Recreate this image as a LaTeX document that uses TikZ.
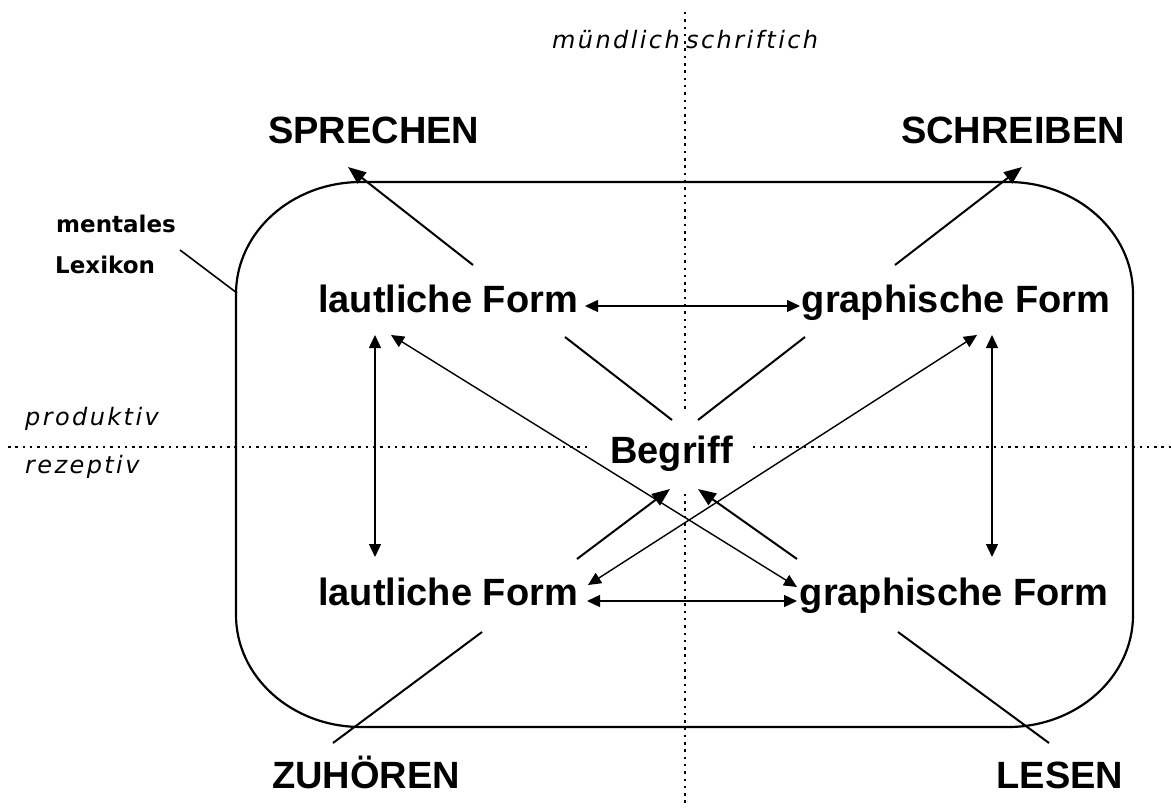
\documentclass[tikz,border=0pt]{standalone}
\usepackage{fontspec}
\setmainfont{Liberation Sans}
\newfontfamily\smallbold{DejaVu Sans}
\newfontfamily\oblf[LetterSpace=10]{DejaVu Sans}
\usetikzlibrary{arrows.meta}
\begin{document}
\begin{tikzpicture}[x=1pt,y=-1pt,
  big/.style={font=\fontsize{38}{40}\selectfont\bfseries, inner sep=0pt},
  lab/.style={font=\smallbold\fontsize{23}{25}\selectfont\bfseries, inner sep=0pt, anchor=base west},
  side/.style={font=\oblf\fontsize{24}{26}\selectfont\itshape, inner sep=0pt, anchor=base west},
  dotline/.style={line width=2pt, dash pattern=on 2.5pt off 4.8pt},
  boxline/.style={line width=2.2pt},
  plain/.style={line width=2pt},
  thin/.style={line width=1.4pt},
  arr/.style={line width=2pt, -{Triangle[length=18pt,width=14pt]}},
  dbl/.style={line width=1.4pt, {Triangle[length=13pt,width=12pt]}-{Triangle[length=13pt,width=12pt]}}
]
\useasboundingbox (0,0) rectangle (1171,808);
\fill[white] (0,0) rectangle (1171,808);

% dotted axes
\coordinate (vtop) at (685,12);
\coordinate (vbot) at (685,808);
\coordinate (hleft) at (8,447);
\coordinate (hright) at (1171,447);
\draw[dotline] (vtop) -- (vbot);
\draw[dotline] (hleft) -- (hright);

% mental lexicon box
\draw[boxline] (236,294) .. controls (236,232) and (292,182) .. (361,182)
  -- (1008,182) .. controls (1077,182) and (1133,232) .. (1133,294)
  -- (1133,615) .. controls (1133,677) and (1077,727) .. (1008,727)
  -- (361,727) .. controls (292,727) and (236,677) .. (236,615) -- cycle;

% Begriff (white patch over the axes)
\fill[white] (587,413) rectangle (753,490);
\node[big, anchor=base] (beg) at (671.5,463) {Begriff};

% axis labels
\node[side] (muend) at (552,49) {mündlich};
\node[side] (schr) at (686,49) {schriftich};
\node[side] (prod) at (25,425) {produktiv};
\node[side] (rez) at (25,473) {rezeptiv};

% skills
\node[big, anchor=base west] (sp) at (268,143) {SPRECHEN};
\node[big, anchor=base] (sc) at (1013,143) {SCHREIBEN};
\node[big, anchor=base] (zu) at (366,788) {ZUHÖREN};
\node[big, anchor=base] (le) at (1060,788) {LESEN};

% forms
\node[big, anchor=base] (lt) at (448,312) {lautliche Form};
\node[big, anchor=base] (gt) at (956,312) {graphische Form};
\node[big, anchor=base] (lb) at (448,605) {lautliche Form};
\node[big, anchor=base] (gb) at (954,605) {graphische Form};

% mentales Lexikon
\node[lab] (ml1) at (56,232) {mentales};
\node[lab] (ml2) at (55,273) {Lexikon};
\coordinate (mlA) at (180,250);
\coordinate (mlB) at (237,293);
\draw[line width=1.6pt] (mlA) -- (mlB);

% connector coordinates
\coordinate (lt-up) at (473,265);  \coordinate (sp-tip) at (348,167);
\coordinate (gt-up) at (895,265);  \coordinate (sc-tip) at (1022,167);
\coordinate (lt-r) at (585,306);   \coordinate (gt-l) at (800,306);
\coordinate (lb-r) at (587,601);   \coordinate (gb-l) at (797,601);
\coordinate (lt-dn) at (375,335);  \coordinate (lb-up) at (375,557);
\coordinate (gt-dn) at (992,335);  \coordinate (gb-up) at (992,557);
\coordinate (lt-se) at (565,337);  \coordinate (beg-nw) at (672,420);
\coordinate (gt-sw) at (805,337);  \coordinate (beg-ne) at (698,420);
\coordinate (lb-ne) at (577,559);  \coordinate (beg-sw) at (670,489);
\coordinate (gb-nw) at (797,559);  \coordinate (beg-se) at (698,489);
\coordinate (lt-x) at (391,335);   \coordinate (gb-x) at (797,587);
\coordinate (lb-x) at (588,585);   \coordinate (gt-x) at (977,335);
\coordinate (lb-dn) at (482,632);  \coordinate (zu-tip) at (333,743);
\coordinate (gb-dn) at (898,632);  \coordinate (le-tip) at (1049,743);

% connectors
\draw[arr] (lt-up) -- (sp-tip);
\draw[arr] (gt-up) -- (sc-tip);
\draw[dbl] (lt-r) -- (gt-l);
\draw[dbl] (lb-r) -- (gb-l);
\draw[dbl] (lt-dn) -- (lb-up);
\draw[dbl] (gt-dn) -- (gb-up);
\draw[plain] (lt-se) -- (beg-nw);
\draw[plain] (gt-sw) -- (beg-ne);
\draw[arr] (lb-ne) -- (beg-sw);
\draw[arr] (gb-nw) -- (beg-se);
\draw[dbl] (lt-x) -- (gb-x);
\draw[dbl] (lb-x) -- (gt-x);
\draw[plain] (lb-dn) -- (zu-tip);
\draw[plain] (gb-dn) -- (le-tip);
\end{tikzpicture}
\end{document}
